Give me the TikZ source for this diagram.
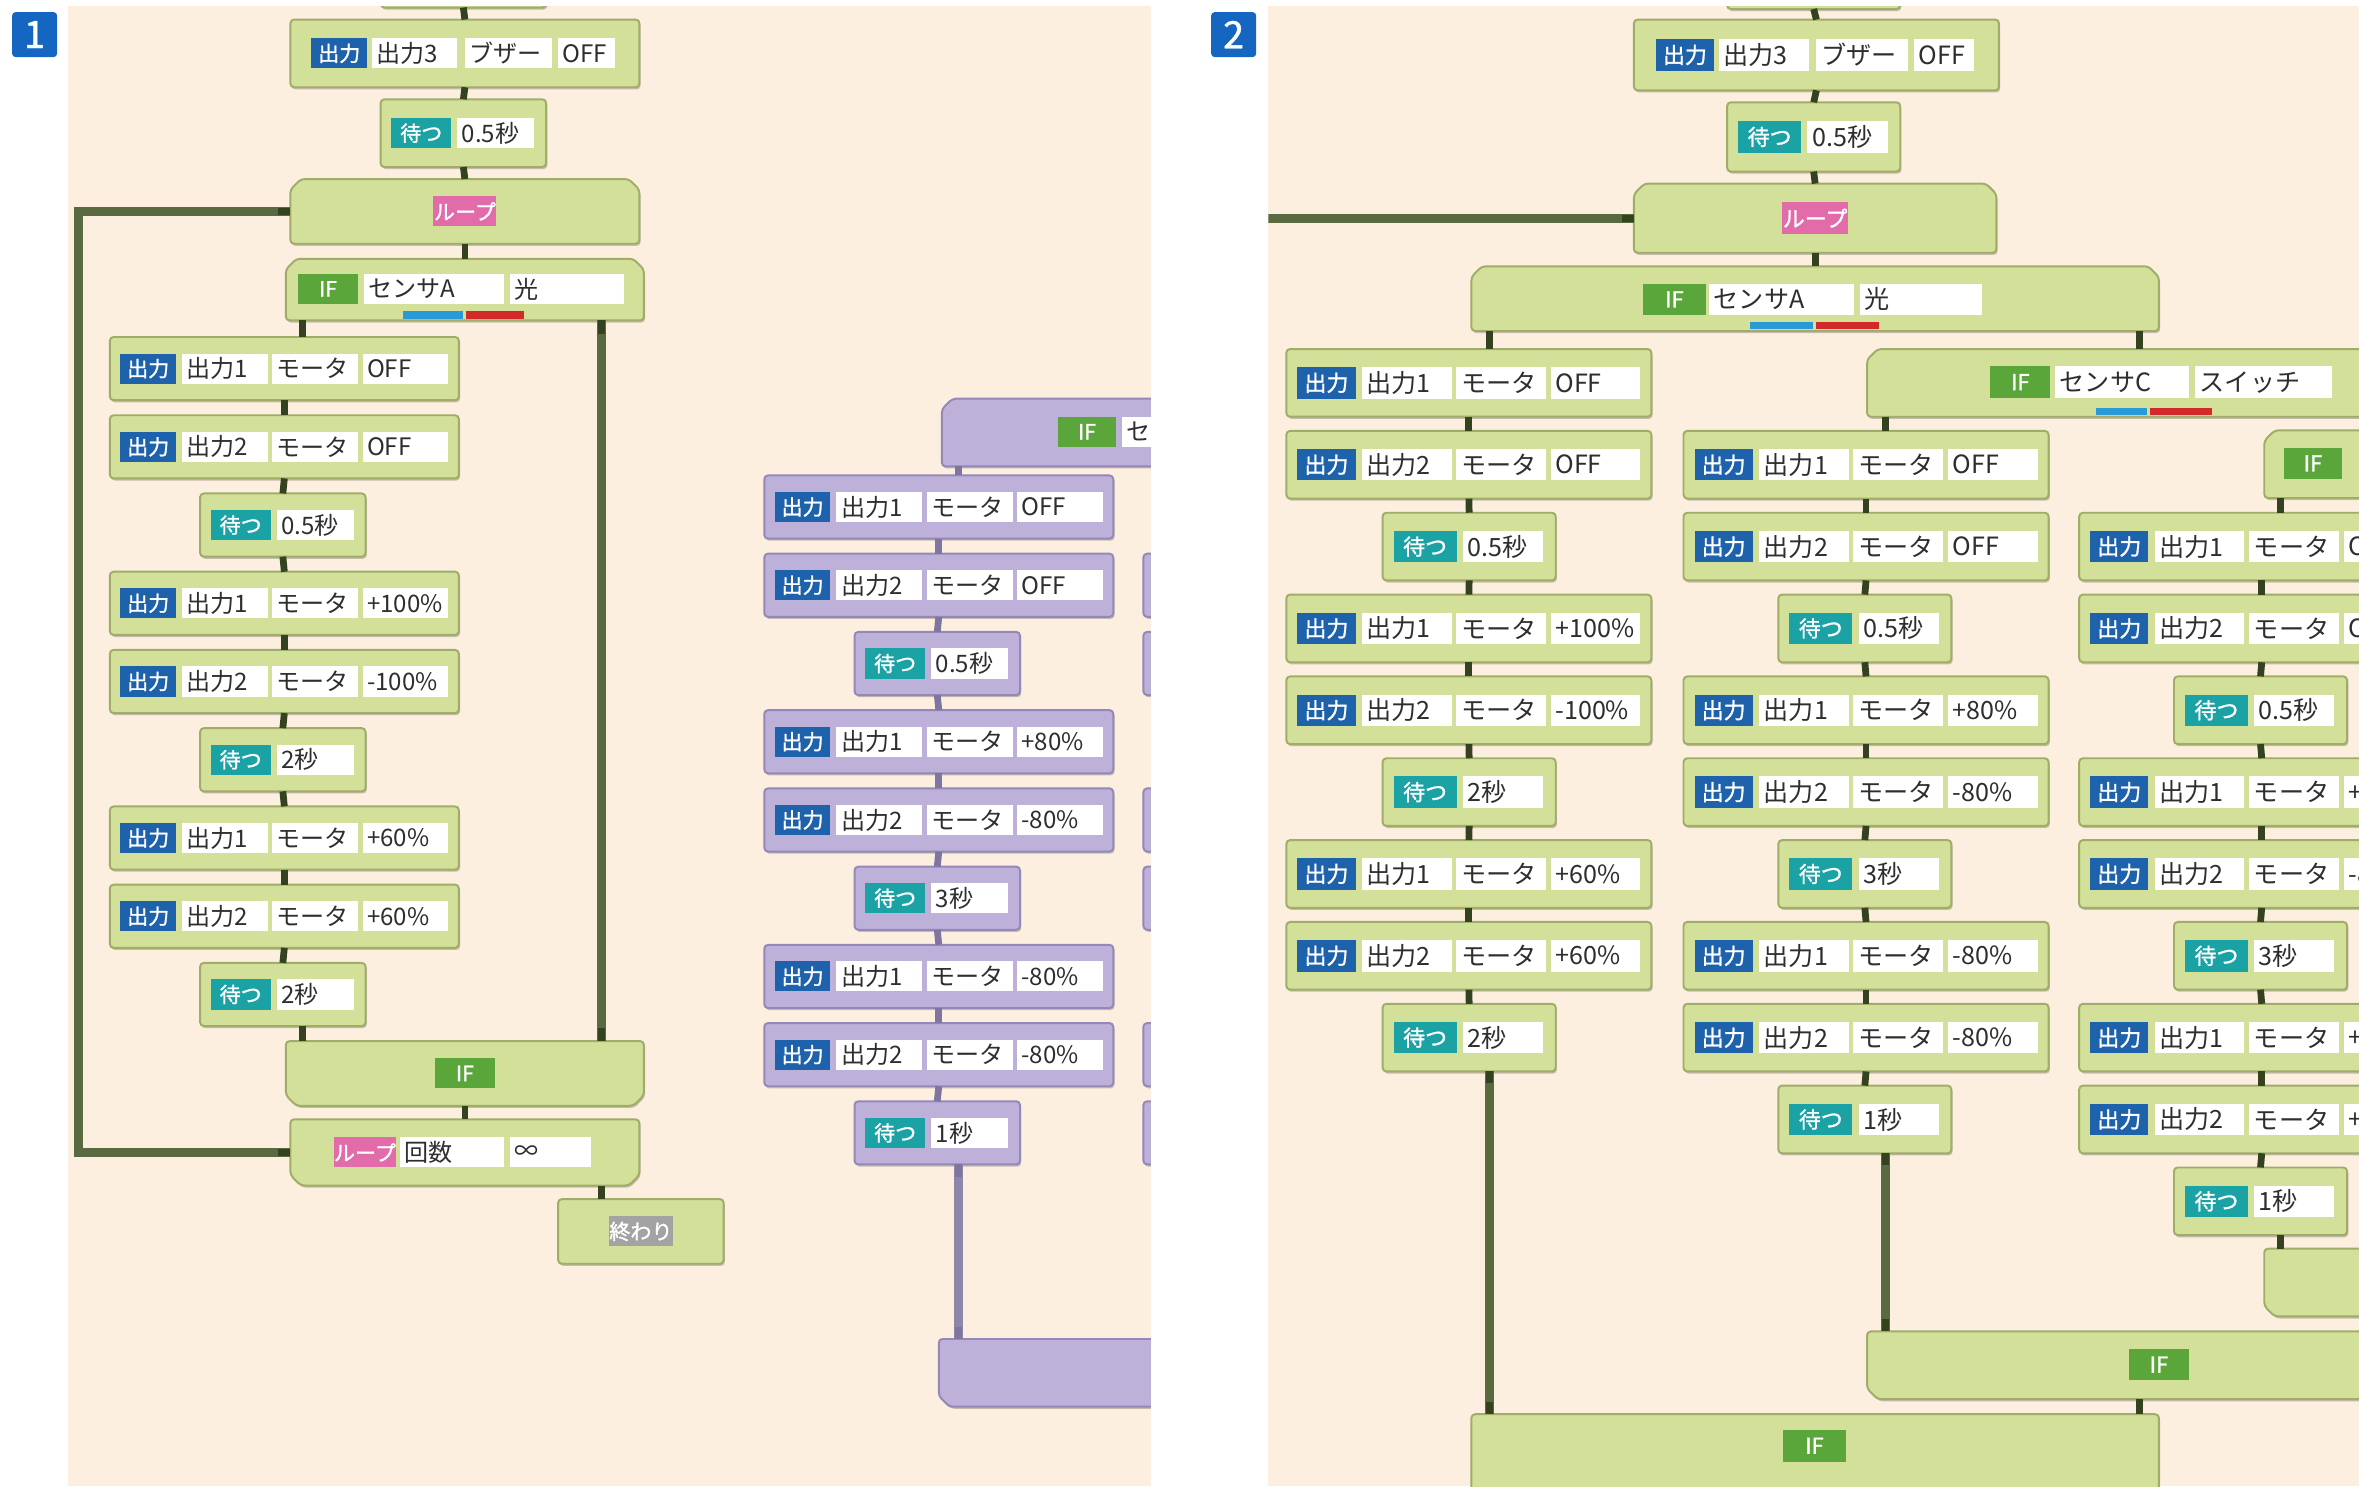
\documentclass[tikz,border=0pt]{standalone}
\usepackage{fontspec}
\setmainfont{Noto Sans CJK JP}
\newfontfamily\labfam[FakeBold=1.2]{Noto Sans CJK JP}
\usetikzlibrary{calc,shadows}

\definecolor{bgcream}{HTML}{FCEFDF}
\definecolor{blkfill}{HTML}{D3E09A}
\definecolor{blkline}{HTML}{A0AD68}
\definecolor{pfill}{HTML}{BDB1D9}
\definecolor{pline}{HTML}{9488B8}
\definecolor{outblue}{HTML}{1E62AC}
\definecolor{waitteal}{HTML}{1BA2A5}
\definecolor{ifgreen}{HTML}{5BA63B}
\definecolor{looppink}{HTML}{E26BAA}
\definecolor{endgrey}{HTML}{A3A3A3}
\definecolor{railcol}{HTML}{5A6A40}
\definecolor{prailcol}{HTML}{8E86A8}
\definecolor{linkdark}{HTML}{34421F}
\definecolor{plinkcol}{HTML}{7E76A0}
\definecolor{badgeblue}{HTML}{1566C0}
\definecolor{txt}{HTML}{2E2E2E}
\definecolor{barblue}{HTML}{2A9AD6}
\definecolor{barred}{HTML}{D22A2A}

\newcommand\bscale{1}
\newcommand\labfont{\labfam\fontsize{14}{15}\selectfont}
\newcommand\fldfont{\fontsize{16}{17}\selectfont}

\tikzset{
  blk/.style={draw=blkline, fill=blkfill, line width=1.3pt, rounded corners=2.5pt,
    drop shadow={shadow xshift=0.8pt, shadow yshift=-1.4pt, opacity=0.22, fill=black}},
  pblk/.style={draw=pline, fill=pfill, line width=1.3pt, rounded corners=2.5pt,
    drop shadow={shadow xshift=0.8pt, shadow yshift=-1.4pt, opacity=0.22, fill=black}},
  curblk/.style=blk,
  box/.style={inner sep=0pt, outer sep=0pt},
  lab/.style={box, text=white, minimum height={20*\bscale}, anchor=west, font=\labfont},
  fldbox/.style={box, fill=white, minimum height={20*\bscale}, anchor=west},
  fldtxt/.style={box, anchor=west, font=\fldfont, text=txt},
  link/.style={draw=linkdark, line width=4.5pt},
  plink/.style={draw=plinkcol, line width=4.5pt},
  curlink/.style=link,
  rail/.style={draw=railcol, line width=6pt},
  prail/.style={draw=prailcol, line width=6pt},
  badge/.style={box, fill=badgeblue, text=white, rounded corners=2.5pt,
    minimum width=30, minimum height=30, font=\labfam\fontsize{25}{25}\selectfont},
}

% white input field with its text
\newcommand\Fld[4]{%
  \node[fldbox, minimum width={#3*\bscale}] (#1) at #2 {};
  \node[fldtxt] (#1-t) at ($(#1.west)+({3*\bscale},0)$) {#4};
}
% output block: name, x, y, height, port, device, value
\newcommand\OutB[7]{%
  \node[curblk, box, minimum width={232*\bscale}, minimum height={#4*\bscale}, anchor=north west] (#1) at (#2,#3) {};
  \node[lab, fill=outblue, minimum width={37*\bscale}] (#1-l) at ($(#1.west)+({7*\bscale},0)$) {出力};
  \Fld{#1-a}{($(#1.west)+({48*\bscale},0)$)}{57}{#5}%
  \Fld{#1-b}{($(#1.west)+({108*\bscale},0)$)}{57}{#6}%
  \Fld{#1-c}{($(#1.west)+({168*\bscale},0)$)}{57}{#7}%
}
% buzzer output block: name, x, y, height
\newcommand\BuzB[4]{%
  \node[curblk, box, minimum width={232*\bscale}, minimum height={#4*\bscale}, anchor=north west] (#1) at (#2,#3) {};
  \node[lab, fill=outblue, minimum width={37*\bscale}] (#1-l) at ($(#1.west)+({14*\bscale},0)$) {出力};
  \Fld{#1-a}{($(#1.west)+({54*\bscale},0)$)}{57}{出力3}%
  \Fld{#1-b}{($(#1.west)+({116*\bscale},0)$)}{58}{ブザー}%
  \Fld{#1-c}{($(#1.west)+({178*\bscale},0)$)}{38}{OFF}%
}
% wait block: name, x, y, height, value
\newcommand\WaitB[5]{%
  \node[curblk, box, minimum width={110*\bscale}, minimum height={#4*\bscale}, anchor=north west] (#1) at (#2,#3) {};
  \node[lab, fill=waitteal, minimum width={40*\bscale}] (#1-l) at ($(#1.west)+({7*\bscale},0)$) {待つ};
  \Fld{#1-a}{($(#1.west)+({51*\bscale},0)$)}{51}{#5}%
}
% block with cut top corners: name, x1, y1, x2, y2
\newcommand\TopCh[5]{%
  \draw[curblk] (#2,#5) -- (#2,#3+7) -- (#2+7,#3) -- (#4-7,#3) -- (#4,#3+7) -- (#4,#5) -- cycle;
  \node[box, minimum width={#4-#2}, minimum height={#5-#3}] (#1) at ({(#2+#4)/2},{(#3+#5)/2}) {};
}
% block with cut bottom corners: name, x1, y1, x2, y2
\newcommand\BotCh[5]{%
  \draw[curblk] (#2,#3) -- (#4,#3) -- (#4,#5-7) -- (#4-7,#5) -- (#2+7,#5) -- (#2,#5-7) -- cycle;
  \node[box, minimum width={#4-#2}, minimum height={#5-#3}] (#1) at ({(#2+#4)/2},{(#3+#5)/2}) {};
}

\begin{document}
\begin{tikzpicture}[x=1pt,y=-1pt]
\useasboundingbox (0,0) rectangle (1568,988);
\fill[white] (0,0) rectangle (1568,988);
\fill[bgcream] (45,4) rectangle (765,988);
\fill[bgcream] (843,4) rectangle (1568,988);
\node[badge] (badge1) at (23,23) {1};
\node[badge] (badge2) at (820,23) {2};

% ================= panel 1 =================
\begin{scope}
\clip (45,4) rectangle (765,988);
\node[curblk, box, minimum width=110, minimum height=42, anchor=north west] (a0) at (253,-37) {};
\BuzB{a1}{193}{13}{45}
\WaitB{a2}{253}{66}{45}{0.5秒}
\TopCh{a3}{193}{119}{425}{162}
\node[lab, fill=looppink, minimum width=42, anchor=center] (a3-l) at (a3) {ループ};
\TopCh{a4}{190}{172}{428}{213}
\node[lab, fill=ifgreen, minimum width=40] (a4-l) at (198,192) {IF};
\Fld{a4-a}{(242,192)}{93}{センサA}
\Fld{a4-b}{(339,192)}{76}{光}
\fill[barblue] (268,207) rectangle (308,212);
\fill[barred] (310,207) rectangle (348,212);

\OutB{a5}{73}{224}{42}{出力1}{モータ}{OFF}
\OutB{a6}{73}{276}{42}{出力2}{モータ}{OFF}
\WaitB{a7}{133}{328}{42}{0.5秒}
\OutB{a8}{73}{380}{42}{出力1}{モータ}{+100\%}
\OutB{a9}{73}{432}{42}{出力2}{モータ}{-100\%}
\WaitB{a10}{133}{484}{42}{2秒}
\OutB{a11}{73}{536}{42}{出力1}{モータ}{+60\%}
\OutB{a12}{73}{588}{42}{出力2}{モータ}{+60\%}
\WaitB{a13}{133}{640}{42}{2秒}

\BotCh{a14}{190}{692}{428}{735}
\node[lab, fill=ifgreen, minimum width=40, anchor=center] (a14-l) at (a14) {IF};
\BotCh{a15}{193}{744}{425}{788}
\node[lab, fill=looppink, minimum width=40] (a15-l) at (222,766) {ループ};
\Fld{a15-a}{(266,766)}{69}{回数}
\Fld{a15-b}{(339,766)}{54}{∞}
\node[curblk, box, minimum width=110, minimum height=43, anchor=north west] (a16) at (371,797) {};
\node[lab, fill=endgrey, minimum width=40, anchor=center] (a16-l) at (a16) {終わり};

% connectors
\path (a4.south west) ++(11,0) coordinate (a4l);
\path (a4.south east) ++(-28,0) coordinate (a4r);
\coordinate (r1) at (52,450);
\draw[curlink] (a0.south) -- (a1.north);
\draw[curlink] (a1.south) -- (a2.north);
\draw[curlink] (a2.south) -- (a3.north);
\draw[curlink] (a3.south) -- (a4.north);
\draw[curlink] (a4l) -- (a4l |- a5.north);
\foreach \p/\q in {a5/a6,a6/a7,a7/a8,a8/a9,a9/a10,a10/a11,a11/a12,a12/a13}
  \draw[curlink] (\p.south) -- (\q.north);
\draw[curlink] (a4l |- a13.south) -- (a4l |- a14.north);
\draw[rail] (a4r) -- (a4r |- a14.north);
\draw[curlink] (a4r) -- ++(0,9);
\draw[curlink] (a4r |- a14.north) -- ++(0,-9);
\draw[curlink] (a14.south) -- (a15.north);
\draw[curlink] (a4r |- a15.south) -- (a4r |- a16.north);
\draw[rail] (a15.west) -- (a15.west -| r1) -- (a3.west -| r1) -- (a3.west);
\draw[curlink] ($(a3.west)+(-8,0)$) -- (a3.west);
\draw[curlink] ($(a15.west)+(-8,0)$) -- (a15.west);

% second branch, partly in view
\tikzset{curblk/.style=pblk, curlink/.style=plink}
\TopCh{b0}{626}{265}{900}{310}
\node[lab, fill=ifgreen, minimum width=39] (b0-l) at (703,287) {IF};
\Fld{b0-a}{(746,287)}{90}{センサC}
\OutB{b1}{508}{316}{42}{出力1}{モータ}{OFF}
\OutB{b2}{508}{368}{42}{出力2}{モータ}{OFF}
\WaitB{b3}{568}{420}{42}{0.5秒}
\OutB{b4}{508}{472}{42}{出力1}{モータ}{+80\%}
\OutB{b5}{508}{524}{42}{出力2}{モータ}{-80\%}
\WaitB{b6}{568}{576}{42}{3秒}
\OutB{b7}{508}{628}{42}{出力1}{モータ}{-80\%}
\OutB{b8}{508}{680}{42}{出力2}{モータ}{-80\%}
\WaitB{b9}{568}{732}{42}{1秒}
\BotCh{b10}{624}{890}{900}{935}
\foreach \n/\y in {c1/368,c2/420,c3/524,c4/576,c5/680,c6/732}
  \node[curblk, box, minimum width=232, minimum height=42, anchor=north west] (\n) at (760,\y) {};
\path (b0.south west) ++(11,0) coordinate (b0l);
\draw[curlink] (b0l) -- (b0l |- b1.north);
\foreach \p/\q in {b1/b2,b2/b3,b3/b4,b4/b5,b5/b6,b6/b7,b7/b8,b8/b9}
  \draw[curlink] (\p.south) -- (\q.north);
\draw[prail] (b0l |- b9.south) -- (b0l |- b10.north);
\draw[curlink] (b0l |- b9.south) -- ++(0,8);
\draw[curlink] (b0l |- b10.north) -- ++(0,-8);
\end{scope}

% ================= panel 2 =================
\renewcommand\bscale{1.046}
\renewcommand\labfont{\labfam\fontsize{14.6}{15}\selectfont}
\renewcommand\fldfont{\fontsize{16.7}{17}\selectfont}
\tikzset{curblk/.style=blk, curlink/.style=link}
\begin{scope}
\clip (843,4) rectangle (1568,988);
\node[curblk, box, minimum width=115, minimum height=44, anchor=north west] (q0) at (1148,-38) {};
\BuzB{q1}{1086}{13}{45}
\WaitB{q2}{1148}{68}{44}{0.5秒}
\TopCh{q3}{1086}{122}{1327}{168}
\node[lab, fill=looppink, minimum width={42*\bscale}, anchor=center] (q3-l) at (q3) {ループ};
\TopCh{q4}{978}{177}{1435}{220}
\node[lab, fill=ifgreen, minimum width={40*\bscale}] (q4-l) at (1092,199) {IF};
\Fld{q4-a}{(1136,199)}{92}{センサA}
\Fld{q4-b}{(1236,199)}{78}{光}
\fill[barblue] (1163,214) rectangle (1205,219);
\fill[barred] (1207,214) rectangle (1249,219);

% left branch
\OutB{q5}{855}{232}{43}{出力1}{モータ}{OFF}
\OutB{q6}{855}{286.4}{43}{出力2}{モータ}{OFF}
\WaitB{q7}{919}{340.8}{43}{0.5秒}
\OutB{q8}{855}{395.2}{43}{出力1}{モータ}{+100\%}
\OutB{q9}{855}{449.6}{43}{出力2}{モータ}{-100\%}
\WaitB{q10}{919}{504}{43}{2秒}
\OutB{q11}{855}{558.4}{43}{出力1}{モータ}{+60\%}
\OutB{q12}{855}{612.8}{43}{出力2}{モータ}{+60\%}
\WaitB{q13}{919}{667.2}{43}{2秒}

% sensor C test
\TopCh{q14}{1241}{232}{1640}{277}
\node[lab, fill=ifgreen, minimum width={38*\bscale}] (q14-l) at (1323,254) {IF};
\Fld{q14-a}{(1366,254)}{85}{センサC}
\Fld{q14-b}{(1459,254)}{87}{スイッチ}
\fill[barblue] (1393,271) rectangle (1427,276);
\fill[barred] (1429,271) rectangle (1470,276);

% middle branch
\OutB{q15}{1119}{286.4}{43}{出力1}{モータ}{OFF}
\OutB{q16}{1119}{340.8}{43}{出力2}{モータ}{OFF}
\WaitB{q17}{1182}{395.2}{43}{0.5秒}
\OutB{q18}{1119}{449.6}{43}{出力1}{モータ}{+80\%}
\OutB{q19}{1119}{504}{43}{出力2}{モータ}{-80\%}
\WaitB{q20}{1182}{558.4}{43}{3秒}
\OutB{q21}{1119}{612.8}{43}{出力1}{モータ}{-80\%}
\OutB{q22}{1119}{667.2}{43}{出力2}{モータ}{-80\%}
\WaitB{q23}{1182}{721.6}{43}{1秒}
\BotCh{q24}{1241}{885}{1640}{930}
\node[lab, fill=ifgreen, minimum width={38*\bscale}, anchor=center] (q24-l) at (1435,907) {IF};

% right branch
\TopCh{q25}{1505}{286}{1800}{331}
\node[lab, fill=ifgreen, minimum width={37*\bscale}] (q25-l) at (1518,308) {IF};
\OutB{q26}{1382}{340.8}{43}{出力1}{モータ}{OFF}
\OutB{q27}{1382}{395.2}{43}{出力2}{モータ}{OFF}
\WaitB{q28}{1445}{449.6}{43}{0.5秒}
\OutB{q29}{1382}{504}{43}{出力1}{モータ}{+80\%}
\OutB{q30}{1382}{558.4}{43}{出力2}{モータ}{-80\%}
\WaitB{q31}{1445}{612.8}{43}{3秒}
\OutB{q32}{1382}{667.2}{43}{出力1}{モータ}{+60\%}
\OutB{q33}{1382}{721.6}{43}{出力2}{モータ}{+60\%}
\WaitB{q34}{1445}{776}{43}{1秒}
\BotCh{q35}{1505}{830}{1800}{875}

\BotCh{q36}{978}{940}{1435}{1010}
\node[lab, fill=ifgreen, minimum width={40*\bscale}, anchor=center] (q36-l) at (1206,961) {IF};

% connectors
\path (q4.south west) ++(12,0) coordinate (q4l);
\path (q4.south east) ++(-13,0) coordinate (q4r);
\path (q14.south west) ++(12,0) coordinate (q14l);
\path (q25.south west) ++(11,0) coordinate (q25l);
\coordinate (r2) at (830,145);
\draw[curlink] (q0.south) -- (q1.north);
\draw[curlink] (q1.south) -- (q2.north);
\draw[curlink] (q2.south) -- (q3.north);
\draw[curlink] (q3.south) -- (q4.north);
\draw[rail] (q3.west) -- (q3.west -| r2);
\draw[curlink] ($(q3.west)+(-8,0)$) -- (q3.west);
\draw[curlink] (q4l) -- (q4l |- q5.north);
\foreach \p/\q in {q5/q6,q6/q7,q7/q8,q8/q9,q9/q10,q10/q11,q11/q12,q12/q13}
  \draw[curlink] (\p.south) -- (\q.north);
\draw[rail] (q4l |- q13.south) -- (q4l |- q36.north);
\draw[curlink] (q4l |- q13.south) -- ++(0,8);
\draw[curlink] (q4l |- q36.north) -- ++(0,-8);
\draw[curlink] (q4r) -- (q4r |- q14.north);
\draw[curlink] (q14l) -- (q14l |- q15.north);
\foreach \p/\q in {q15/q16,q16/q17,q17/q18,q18/q19,q19/q20,q20/q21,q21/q22,q22/q23}
  \draw[curlink] (\p.south) -- (\q.north);
\draw[rail] (q14l |- q23.south) -- (q14l |- q24.north);
\draw[curlink] (q14l |- q23.south) -- ++(0,8);
\draw[curlink] (q14l |- q24.north) -- ++(0,-8);
\draw[curlink] (q24.south -| q4r) -- (q36.north -| q4r);
\draw[curlink] (q25l) -- (q25l |- q26.north);
\foreach \p/\q in {q26/q27,q27/q28,q28/q29,q29/q30,q30/q31,q31/q32,q32/q33,q33/q34}
  \draw[curlink] (\p.south) -- (\q.north);
\draw[curlink] (q25l |- q34.south) -- (q25l |- q35.north);
\end{scope}
\end{tikzpicture}
\end{document}
